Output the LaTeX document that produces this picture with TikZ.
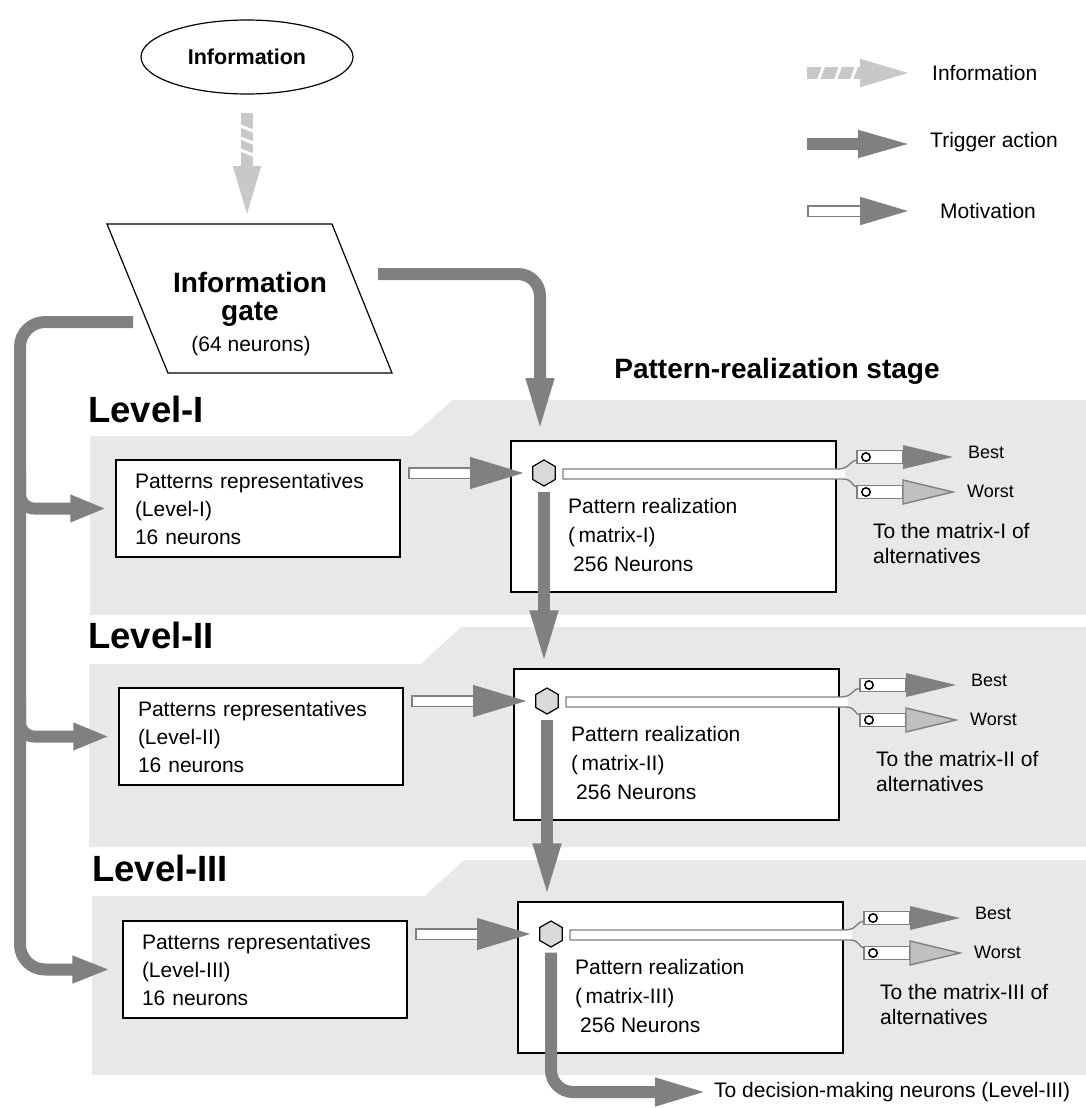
\documentclass[tikz,border=0pt]{standalone}
\usepackage{fontspec}
\setmainfont{Liberation Sans}
\usetikzlibrary{arrows.meta,shapes.geometric,calc}
\definecolor{trigc}{HTML}{808080}
\definecolor{infoc}{HTML}{C8C8C8}
\definecolor{panelc}{HTML}{E8E8E8}
\definecolor{hexc}{HTML}{D9D9D9}
\definecolor{worstc}{HTML}{C0C0C0}
\tikzset{
 trig/.style={draw=trigc, line width=12pt, -{Triangle[width=25pt,length=55pt]}, rounded corners=22pt},
 branch/.style={draw=trigc, line width=12pt, -{Triangle[width=25pt,length=36pt]}, rounded corners=14pt},
 infoarrow/.style={draw=infoc, line width=12pt, -{Triangle[width=24pt,length=55pt]}},
 motouter/.style={draw=trigc, line width=12pt, -{Triangle[width=28pt,length=58pt]}},
 motinner/.style={draw=white, line width=9pt},
 lbox/.style={draw, line width=1.3pt, fill=white, minimum height=97pt, text width=246pt, inner xsep=19pt, inner ysep=0pt, align=left, font=\fontsize{21}{28}\selectfont},
 rbox/.style={draw, line width=1.3pt, fill=white, minimum width=325pt, minimum height=151pt},
 hexa/.style={regular polygon, regular polygon sides=6, shape border rotate=30, draw, fill=hexc, line width=1.2pt, minimum size=26pt, inner sep=0pt},
 txt/.style={inner sep=0pt, font=\fontsize{21}{29}\selectfont, align=left},
 small/.style={inner sep=0pt, font=\fontsize{18}{22}\selectfont},
 lvl/.style={inner sep=0pt, anchor=west, font=\fontsize{36.5}{40}\selectfont\bfseries},
 bar/.style={draw=trigc, line width=1.4pt},
 knob/.style={draw, line width=1.5pt, fill=white},
}
\newcommand\levelrow[4]{%
 \begin{scope}[shift={(#1,#2)}]
  \node[lbox] (left#4) at (258,508.5) {Patterns representatives\\(Level-#3)\\16 neurons};
  \node[rbox] (right#4) at (673.5,516.5) {};
  \node[hexa] (hex#4) at (544,473) {};
  \node[txt, anchor=west] (rtext#4) at (568,535) {Pattern realization\\(\,matrix-#3)\\\hspace*{5pt}256 Neurons};
  \coordinate (ms#4) at (408,473);
  \draw[motouter] (ms#4) -- ([xshift=-4pt]hex#4.west);
  \draw[motinner, shorten <=1.5pt, shorten >=58pt] (ms#4) -- ([xshift=-4pt]hex#4.west);
  \fill[white] (563,469) rectangle (845,479);
  \draw[bar] (563,479) -- (563,469) -- (838,469) .. controls (850,469) and (850,460) .. (857,460);
  \draw[bar] (563,479) -- (843,479) .. controls (853,479) and (852,487) .. (857,487);
  \filldraw[bar, fill=white] (857,450.5) rectangle (903,463.5);
  \fill[trigc] (903,445) -- (953,457) -- (903,469) -- cycle;
  \draw[knob] (866,457) circle (4.2pt);
  \filldraw[bar, fill=white] (857,485.5) rectangle (903,498.5);
  \filldraw[bar, fill=worstc] (903,480) -- (953,492) -- (903,504) -- cycle;
  \draw[knob] (866,492) circle (4.2pt);
  \node[small, anchor=west] (best#4) at (968,452) {Best};
  \node[small, anchor=west] (worst#4) at (967,491) {Worst};
  \node[txt, anchor=west, font=\fontsize{21}{25}\selectfont] (alt#4) at (873,543) {To the matrix-#3 of\\alternatives};
 \end{scope}}
\begin{document}
\begin{tikzpicture}[x=1pt,y=-1pt]
\useasboundingbox (0,0) rectangle (1086,1108);
\fill[white] (0,0) rectangle (1086,1108);
% panels
\fill[panelc] (90,436) -- (412,436) -- (453,400) -- (1086,400) -- (1086,615) -- (90,615) -- cycle;
\fill[panelc] (89,664) -- (421,664) -- (461,627) -- (1086,627) -- (1086,847) -- (89,847) -- cycle;
\fill[panelc] (92,896) -- (425,896) -- (464,860) -- (1086,860) -- (1086,1075) -- (92,1075) -- cycle;
\node[lvl] (lv1) at (88,409) {Level-I};
\node[lvl] (lv2) at (88,635) {Level-II};
\node[lvl] (lv3) at (92,868) {Level-III};
\node[inner sep=0pt, font=\fontsize{28}{30}\selectfont\bfseries] (stage) at (777,371) {Pattern-realization stage};
% top
\node[ellipse, draw, line width=1.2pt, minimum width=212pt, minimum height=74pt, font=\fontsize{21.5}{24}\selectfont\bfseries] (info) at (247,57) {Information};
\draw[line width=1.2pt, fill=white] (107,224) -- (332,224) -- (392,373) -- (168,373) -- cycle;
\coordinate (gatetop) at (247,221);
\node[inner sep=0pt, font=\fontsize{28}{30}\selectfont\bfseries] (g1) at (250,282) {Information};
\node[inner sep=0pt, font=\fontsize{28}{30}\selectfont\bfseries] (g2) at (250,314) {gate};
\node[inner sep=0pt, font=\fontsize{21}{24}\selectfont] (g3) at (251,346) {(64 neurons)};
\draw[infoarrow, shorten <=18pt] (info.south) -- (gatetop);
\begin{scope}
 \clip (240,111) rectangle (256,165);
 \foreach \yy in {129,141,153} \draw[white, line width=3pt] (238,\yy-4) -- (258,\yy+4);
\end{scope}
% legend
\coordinate (li1) at (807,73); \coordinate (li2) at (915,73);
\draw[infoarrow] (li1) -- (li2);
\begin{scope}
 \clip (806,66) rectangle (859,80);
 \foreach \xx in {821,838,854} \draw[white, line width=3pt] (\xx-3,81) -- (\xx+3,65);
\end{scope}
\node[txt, anchor=west] (lt1) at (932,73) {Information};
\coordinate (lg1) at (807,144); \coordinate (lg2) at (915,144);
\draw[trig, -{Triangle[width=24pt,length=57pt]}] (lg1) -- (lg2);
\node[txt, anchor=west] (lt2) at (930,142) {Trigger action};
\coordinate (lm1) at (807,211); \coordinate (lm2) at (915,211);
\draw[motouter, -{Triangle[width=24pt,length=55pt]}] (lm1) -- (lm2);
\draw[motinner, shorten <=1.5pt, shorten >=55pt] (lm1) -- (lm2);
\node[txt, anchor=west] (lt3) at (940,211) {Motivation};
% rows
\levelrow{0}{0}{I}{1}
\levelrow{3}{228}{II}{2}
\levelrow{7}{461}{III}{3}
% trigger connections
\coordinate (gout) at (378,274);
\coordinate (gdown) at (540,433);
\draw[trig] (gout) -- (540,274) -- (gdown);
\draw[trig, shorten >=3pt] ([yshift=-5pt]hex1.south) -- (hex1.south |- right2.north);
\draw[trig, shorten >=3pt] ([yshift=-5pt]hex2.south) -- (hex2.south |- right3.north);
\node[txt, anchor=west] (dm) at (714,1092) {To decision-making neurons (Level-III)};
\draw[trig] ([yshift=-5pt]hex3.south) -- (hex3.south |- dm.west) -- ([xshift=-4pt]dm.west);
% left network
\coordinate (gleft) at (133,322);
\coordinate (vl) at (20,0);
\draw[trig, rounded corners=25pt, -{Triangle[width=25pt,length=38pt]}] (gleft) -- (20,322) -- (vl |- left3.west) -- ([xshift=-12pt]left3.west);
\draw[branch] (20,470) -- (vl |- left1.west) -- ([xshift=-9pt]left1.west);
\draw[branch] (20,700) -- (vl |- left2.west) -- ([xshift=-9pt]left2.west);
\end{tikzpicture}
\end{document}
